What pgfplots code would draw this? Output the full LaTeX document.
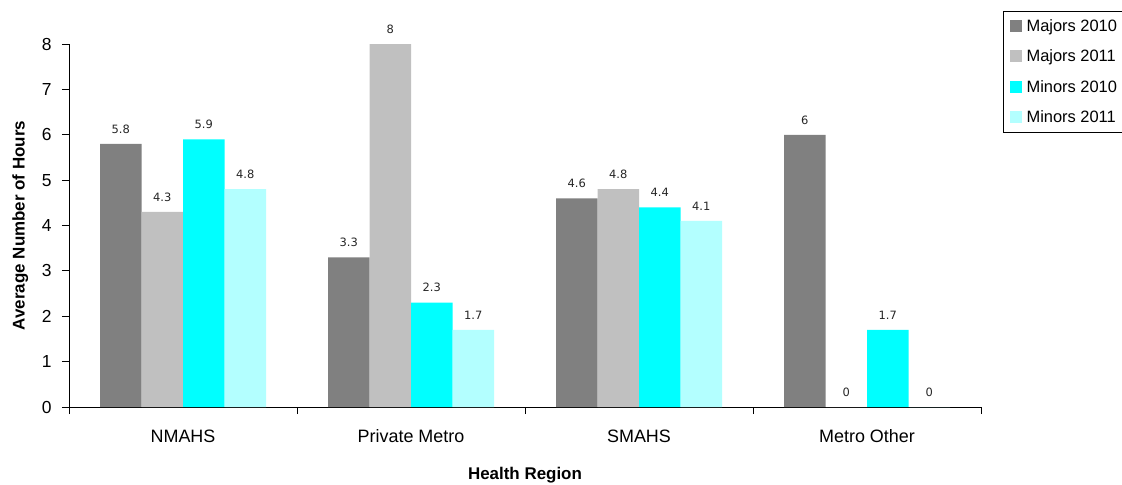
\documentclass[border=0pt]{standalone}
\usepackage{pgfplots}
\pgfplotsset{compat=1.18}
\usepackage{fontspec}
\setmainfont{Liberation Sans}
\newfontfamily\valuefont{DejaVu Sans}

\definecolor{majorsA}{HTML}{808080}
\definecolor{majorsB}{HTML}{C0C0C0}
\definecolor{minorsA}{HTML}{00FFFF}
\definecolor{minorsB}{HTML}{B3FFFF}

\begin{document}
\begin{tikzpicture}
\begin{axis}[
  at={(0,0)}, anchor=south west,
  scale only axis, width=912bp, height=363bp,
  xmin=-0.5, xmax=3.5, ymin=0, ymax=8,
  ybar=0pt, bar width=41.5bp,
  axis x line*=bottom, axis y line*=left,
  axis line style={black, line width=0.8bp},
  /pgf/number format/assume math mode=true,
  xtick={0,1,2,3},
  xticklabels={NMAHS,Private Metro,SMAHS,Metro Other},
  major x tick style={draw=none},
  minor xtick={-0.5,0.5,1.5,2.5,3.5},
  minor x tick style={black, line width=0.8bp},
  minor tick length=7bp,
  ytick={0,1,...,8},
  major tick length=7bp,
  y tick style={black, line width=0.8bp},
  tick align=outside,
  xticklabel style={font=\fontsize{18}{21}\selectfont, yshift=-12bp},
  yticklabel style={font=\fontsize{17.5}{20}\selectfont, xshift=-7bp},
  xlabel={Health Region},
  ylabel={Average Number of Hours},
  every axis x label/.style={at={(axis description cs:0.5,0)}, anchor=base, yshift=-72bp,
    font=\bfseries\fontsize{17}{19}\selectfont},
  every axis y label/.style={at={(axis description cs:-0.0535,0.5)}, anchor=center, rotate=90,
    font=\bfseries\fontsize{17}{19}\selectfont},
  nodes near coords,
  every node near coord/.append style={font=\valuefont\fontsize{11.5}{13}\selectfont,
    text=black!85, yshift=7bp},
  legend image code/.code={\fill[#1, draw=none] (0bp,-6bp) rectangle (12bp,6bp);},
  legend cell align=left,
  legend style={at={(axis description cs:1.0243,1.091)}, anchor=north west,
    draw=black, line width=0.8bp, font=\fontsize{16.5}{19}\selectfont,
    row sep=13bp, inner xsep=6bp, inner ysep=6bp,
    /tikz/every odd column/.append style={column sep=3bp}},
]
\addplot[fill=majorsA, draw=none] coordinates {(0,5.8) (1,3.3) (2,4.6) (3,6)};
\addplot[fill=majorsB, draw=none] coordinates {(0,4.3) (1,8) (2,4.8) (3,0)};
\addplot[fill=minorsA, draw=none] coordinates {(0,5.9) (1,2.3) (2,4.4) (3,1.7)};
\addplot[fill=minorsB, draw=none] coordinates {(0,4.8) (1,1.7) (2,4.1) (3,0)};
\legend{Majors 2010, Majors 2011, Minors 2010, Minors 2011}
\end{axis}
\pgfresetboundingbox
\path[use as bounding box] (-69bp,-78bp) rectangle (1053bp,407bp);
\end{tikzpicture}
\end{document}
